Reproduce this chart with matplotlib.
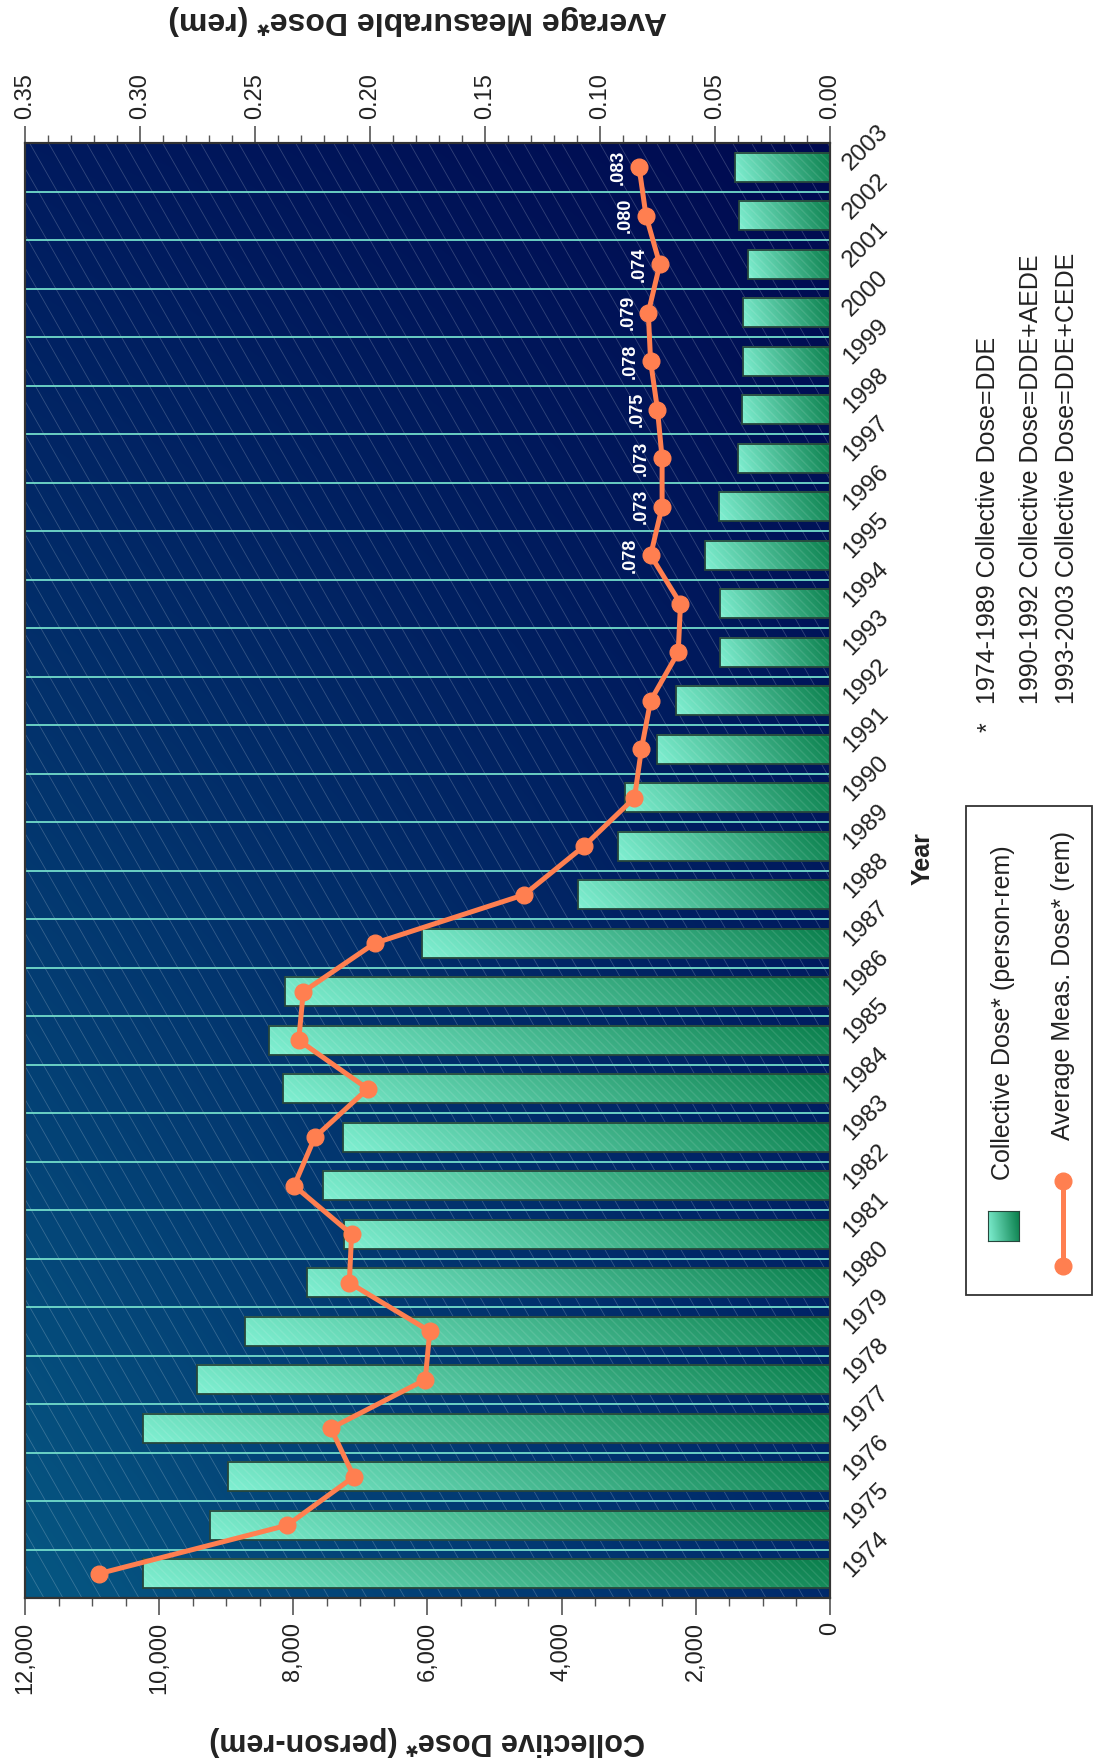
import numpy as np
import matplotlib
matplotlib.use("Agg")
import matplotlib.pyplot as plt
from matplotlib.ticker import MultipleLocator, FuncFormatter
from matplotlib.patches import Rectangle
from matplotlib.lines import Line2D

plt.rcParams['font.family'] = ['Liberation Sans', 'DejaVu Sans']

# ---- data ----
years = list(range(1974, 2004))
collective = [10240, 9240, 8970, 10240, 9440, 8720, 7800, 7250, 7560, 7260,
              8150, 8370, 8120, 6080, 3750, 3160, 3050, 2580, 2290, 1640,
              1640, 1860, 1660, 1370, 1310, 1290, 1290, 1220, 1360, 1420]
avg_dose = [0.318, 0.236, 0.207, 0.217, 0.176, 0.174, 0.209, 0.208, 0.233, 0.224,
            0.201, 0.231, 0.229, 0.198, 0.133, 0.107, 0.085, 0.082, 0.078, 0.066,
            0.065, 0.078, 0.073, 0.073, 0.075, 0.078, 0.079, 0.074, 0.080, 0.083]
label_years = [1995, 1996, 1997, 1998, 1999, 2000, 2001, 2002, 2003]
label_text = [".078", ".073", ".073", ".075", ".078", ".079", ".074", ".080", ".083"]
footnotes = ["1974-1989 Collective Dose=DDE",
             "1990-1992 Collective Dose=DDE+AEDE",
             "1993-2003 Collective Dose=DDE+CEDE"]

CORAL = "#ff7f50"
W, H = 1094, 1762
fig = plt.figure(figsize=(W / 100, H / 100), dpi=100)

# plot area in pixels: x 25..830, y 143..1598 (from top)
L, R, T, B = 25, 830, 143, 1598
rect = [L / W, 1 - B / H, (R - L) / W, (B - T) / H]
pw, ph = R - L, B - T


def hexrgb(h):
    h = h.lstrip("#")
    return np.array([int(h[i:i + 2], 16) / 255 for i in (0, 2, 4)])


# ---- background: diagonal gradient + thin diagonal lines ----
bg = fig.add_axes(rect, zorder=0)
bg.set_axis_off()
u = np.linspace(0, 1, 200)[None, :, None]
v = np.linspace(0, 1, 300)[:, None, None]
TL, TR, BL, BR = (hexrgb(c) for c in ("#001a5e", "#000a50", "#065782", "#00296b"))
img = (1 - u) * (1 - v) * TL + u * (1 - v) * TR + (1 - u) * v * BL + u * v * BR
bg.imshow(img, extent=[0, pw, 0, ph], aspect="auto", origin="upper", interpolation="bilinear")
slope = 1.75
for x0 in np.arange(-ph / slope, pw, 19):
    bg.plot([x0, x0 + ph / slope], [ph, 0], color="white", alpha=0.2, lw=0.6)
bg.set_xlim(0, pw)
bg.set_ylim(0, ph)

# ---- bars ----
ax = fig.add_axes(rect, zorder=1)
ax.patch.set_visible(False)
pos = np.arange(len(years))
light, dark = hexrgb("#80f0d2"), hexrgb("#0a7f4c")
gx = np.linspace(0, 1, 120)[None, :, None]
gy = np.linspace(0, 1, 10)[:, None, None]
t = np.clip(gx * 0.9 + (1 - gy) * 0.1, 0, 1)
grad = light * (1 - t) + dark * t
for p, val in zip(pos, collective):
    ax.imshow(grad, extent=[val, 0, p - 0.3, p + 0.3], aspect="auto",
              interpolation="bilinear", zorder=2)
ax.barh(pos, collective, height=0.6, color="none", edgecolor=(1, 1, 1, 0.1),
        hatch="\\\\\\\\", linewidth=0, zorder=2.5)
ax.barh(pos, collective, height=0.6, fill=False, edgecolor="#27463c",
        linewidth=1.3, zorder=3)
ax.set_xlim(12000, 0)
ax.set_ylim(-0.5, len(years) - 0.5)

ax.xaxis.set_major_locator(MultipleLocator(2000))
ax.xaxis.set_minor_locator(MultipleLocator(500))
ax.xaxis.set_major_formatter(FuncFormatter(lambda v, _: f"{v:,.0f}"))
ax.tick_params(axis="x", which="major", length=12, width=1.2, color="#555555",
               labelsize=17, labelrotation=90, pad=5, labelcolor="#222222")
ax.tick_params(axis="x", which="minor", length=6, width=1, color="#555555")

ax.yaxis.tick_right()
ax.set_yticks(pos)
ax.set_yticklabels([str(y) for y in years], rotation=45, rotation_mode="anchor",
                   ha="left", va="center", fontsize=17.5, color="#222222")
ax.set_yticks(pos[:-1] + 0.5, minor=True)
ax.tick_params(axis="y", which="both", length=0, pad=12)
ax.grid(which="minor", axis="y", color="#72dccb", lw=1.3)
for s in ax.spines.values():
    s.set_color("#333333")
    s.set_linewidth(1.5)

# ---- average dose line ----
ax2 = ax.twiny()
ax2.set_zorder(2)
ax2.patch.set_visible(False)
ax2.plot(avg_dose, pos, color=CORAL, lw=3.6, marker="o", ms=12, zorder=5)
ax2.set_xlim(0.35, 0)
ax2.xaxis.set_major_locator(MultipleLocator(0.05))
ax2.xaxis.set_minor_locator(MultipleLocator(0.01))
ax2.xaxis.set_major_formatter(FuncFormatter(lambda v, _: f"{v:.2f}"))
ax2.tick_params(axis="x", which="major", length=12, width=1.2, color="#555555",
                labelsize=17, labelrotation=90, pad=5, labelcolor="#222222")
ax2.tick_params(axis="x", which="minor", length=6, width=1, color="#555555")
for s in ax2.spines.values():
    s.set_color("#333333")
    s.set_linewidth(1.5)

for yr, txt in zip(label_years, label_text):
    i = years.index(yr)
    ax2.annotate(txt, (avg_dose[i], pos[i]), xytext=(-12, 0), textcoords="offset pixels",
                 rotation=90, ha="right", va="center", color="white",
                 fontweight="bold", fontsize=13)

# ---- axis titles ----
fig.text(427 / W, 1 - 1741 / H, "Collective Dose* (person-rem)", rotation=180,
         ha="center", va="center", fontsize=22, fontweight="bold", color="#222222")
fig.text(418 / W, 1 - 20 / H, "Average Measurable Dose* (rem)", rotation=180,
         ha="center", va="center", fontsize=23, fontweight="bold", color="#222222")
fig.text(923 / W, 1 - 859 / H, "Year", rotation=90, ha="center", va="center",
         fontsize=18, fontweight="bold", color="#222222")

# ---- legend (rotated, built by hand) ----
fig.add_artist(Rectangle((966 / W, 1 - 1295 / H), (1092 - 966) / W, (1295 - 806) / H,
                         fill=False, ec="#333333", lw=1.3, transform=fig.transFigure))
sq = fig.add_axes([988 / W, 1 - 1241 / H, 31 / W, 30 / H])
sq.imshow(grad, extent=[0, 1, 0, 1], aspect="auto", interpolation="bilinear")
sq.set_xticks([])
sq.set_yticks([])
for s in sq.spines.values():
    s.set_color("#27463c")
fig.add_artist(Line2D([1063 / W, 1063 / W], [1 - 1181 / H, 1 - 1266 / H],
                      transform=fig.transFigure, color=CORAL, lw=3.6, marker="o", ms=12))
fig.text(1003 / W, 1 - 1180 / H, "Collective Dose* (person-rem)", rotation=90,
         ha="center", va="bottom", fontsize=18, color="#222222")
fig.text(1063 / W, 1 - 1140 / H, "Average Meas. Dose* (rem)", rotation=90,
         ha="center", va="bottom", fontsize=18, color="#222222")

# ---- footnote ----
fig.text(988 / W, 1 - 732 / H, "*", rotation=90, ha="center", va="bottom",
         fontsize=18, color="#222222")
for xp, line in zip((988, 1031, 1067), footnotes):
    fig.text(xp / W, 1 - 704 / H, line, rotation=90, ha="center", va="bottom",
             fontsize=18, color="#222222")

fig.savefig("out.png", dpi=100)
